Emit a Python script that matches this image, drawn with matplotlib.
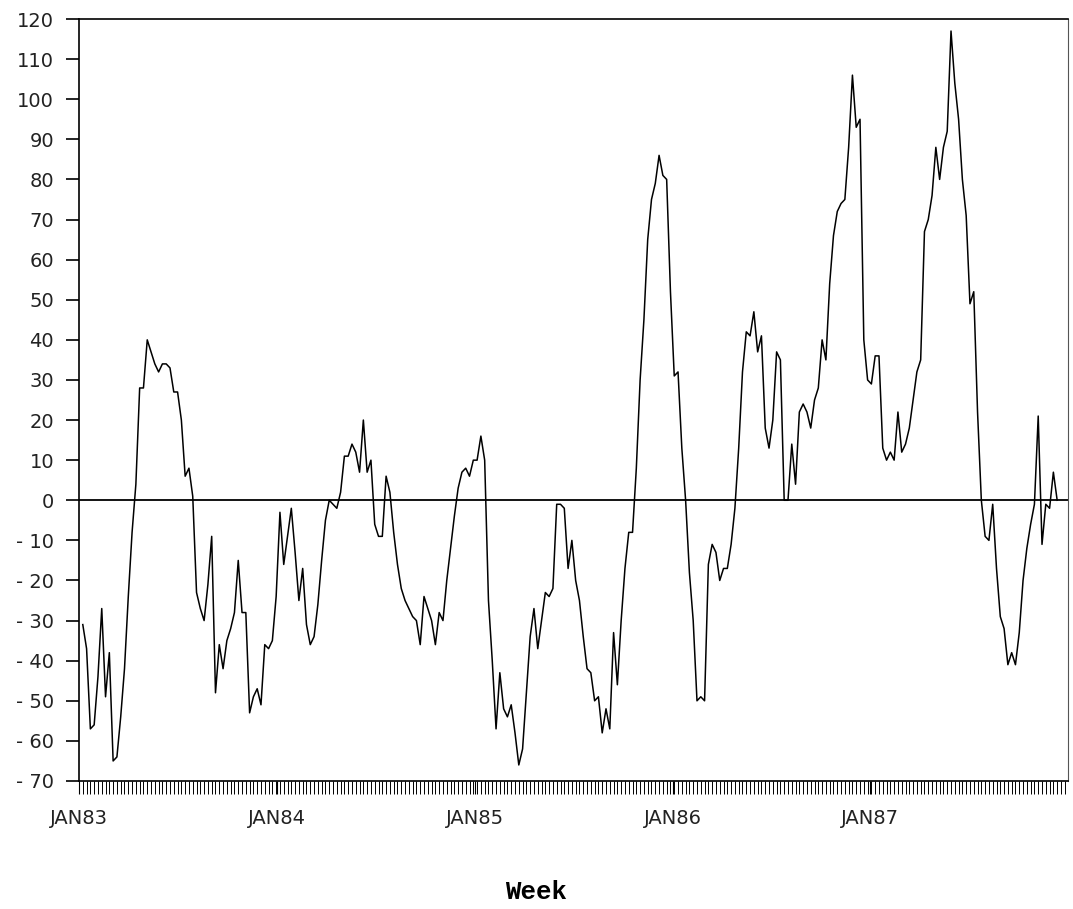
import pandas as pd
import numpy as np
import matplotlib
matplotlib.use('Agg')
import matplotlib.pyplot as plt
import matplotlib.dates as mdates
from matplotlib.ticker import FixedLocator, FuncFormatter

# weekly values, Jan 1983 - Dec 1987
values = [
    -31, -37, -57, -56, -44, -27, -49, -38, -65, -64,
    -54, -42, -24, -8, 4, 28, 28, 40, 37, 34,
    32, 34, 34, 33, 27, 27, 20, 6, 8, 1,
    -23, -27, -30, -21, -9, -48, -36, -42, -35, -32,
    -28, -15, -28, -28, -53, -49, -47, -51, -36, -37,
    -35, -24, -3, -16, -9, -2, -13, -25, -17, -31,
    -36, -34, -26, -15, -5, 0, -1, -2, 2, 11,
    11, 14, 12, 7, 20, 7, 10, -6, -9, -9,
    6, 2, -8, -16, -22, -25, -27, -29, -30, -36,
    -24, -27, -30, -36, -28, -30, -20, -12, -4, 3,
    7, 8, 6, 10, 10, 16, 10, -25, -40, -57,
    -43, -52, -54, -51, -58, -66, -62, -48, -34, -27,
    -37, -30, -23, -24, -22, -1, -1, -2, -17, -10,
    -20, -25, -34, -42, -43, -50, -49, -58, -52, -57,
    -33, -46, -30, -17, -8, -8, 8, 30, 45, 65,
    75, 79, 86, 81, 80, 52, 31, 32, 13, 0,
    -18, -30, -50, -49, -50, -16, -11, -13, -20, -17,
    -17, -11, -2, 13, 32, 42, 41, 47, 37, 41,
    18, 13, 20, 37, 35, 0, 0, 14, 4, 22,
    24, 22, 18, 25, 28, 40, 35, 54, 66, 72,
    74, 75, 88, 106, 93, 95, 40, 30, 29, 36,
    36, 13, 10, 12, 10, 22, 12, 14, 18, 25,
    32, 35, 67, 70, 76, 88, 80, 88, 92, 117,
    104, 95, 80, 71, 49, 52, 22, 0, -9, -10,
    -1, -17, -29, -32, -41, -38, -41, -33, -20, -12,
    -6, -1, 21, -11, -1, -2, 7, 0,
]
weeks = pd.date_range('1983-01-08', periods=len(values), freq='7D')

year_starts = pd.to_datetime(['1983-01-01', '1984-01-01', '1985-01-01',
                              '1986-01-01', '1987-01-01'])
year_labels = ['JAN83', 'JAN84', 'JAN85', 'JAN86', 'JAN87']
y_ticks = list(range(-70, 121, 10))

fig = plt.figure(figsize=(10.73, 9.09), dpi=100)
ax = fig.add_axes([79 / 1073, 1 - 781 / 909, 989 / 1073, 762 / 909])

ax.plot(weeks, values, color='black', lw=1.1)
ax.axhline(0, color='black', lw=1.3)

ax.set_xlim(pd.Timestamp('1983-01-01'), pd.Timestamp('1988-01-01'))
ax.set_ylim(-70, 120)

# year labels on the major ticks, a tick for every week underneath
ax.xaxis.set_major_locator(FixedLocator(mdates.date2num(year_starts)))
ax.set_xticklabels(year_labels)
week_ticks = pd.date_range('1983-01-01', '1987-12-31', freq='7D')
ax.xaxis.set_minor_locator(FixedLocator(mdates.date2num(week_ticks)))

ax.set_yticks(y_ticks)
ax.yaxis.set_major_formatter(
    FuncFormatter(lambda v, pos: f'- {abs(int(v))}' if v < 0 else f'{int(v)}'))

ax.tick_params(axis='both', which='both', direction='out', color='black',
               labelsize=14, labelcolor='#222222')
ax.tick_params(axis='y', length=9.5, width=1.2, pad=8.5)
ax.tick_params(axis='x', which='major', length=9.5, width=0.8, pad=11)
ax.tick_params(axis='x', which='minor', length=9.5, width=0.7)

for side in ['left', 'bottom', 'top']:
    ax.spines[side].set_linewidth(1.2)
ax.spines['right'].set_linewidth(0.8)
ax.spines['right'].set_color('#555555')

fig.text(536 / 1073, 1 - 892 / 909, 'Week', ha='center', va='center',
         family='Liberation Mono', weight='bold', fontsize=18.5)

fig.savefig('out.png', dpi=100)
